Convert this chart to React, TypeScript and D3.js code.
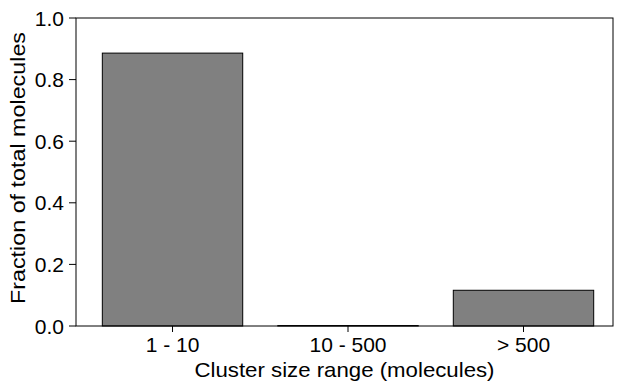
import React from "react";
import * as d3 from "d3";

const categories = ["1 - 10", "10 - 500", "> 500"];
const fractions = [0.886, 0.0015, 0.116];
const yTicks = [0, 0.2, 0.4, 0.6, 0.8, 1.0];

const width = 628;
const height = 391;
const margin = { top: 18, right: 15, bottom: 65, left: 76 };

const App = () => {
  // x as a continuous index scale, bars 0.8 wide like matplotlib
  const xScale = d3
    .scaleLinear()
    .domain([-0.55, 2.51])
    .range([margin.left, width - margin.right]);
  const yScale = d3
    .scaleLinear()
    .domain([0, 1])
    .range([height - margin.bottom, margin.top]);

  const font = "'Liberation Sans', Arial, sans-serif";
  const bottom = height - margin.bottom;
  const fs = 21;

  return (
    <svg
      width={width}
      height={height}
      style={{ position: "absolute", left: 0, top: 0 }}
      fontFamily={font}
    >
      <rect width={width} height={height} fill="#fff" />
      {fractions.map((v, i) => (
        <rect
          key={categories[i]}
          x={xScale(i - 0.4)}
          y={yScale(v)}
          width={xScale(i + 0.4) - xScale(i - 0.4)}
          height={bottom - yScale(v)}
          fill="#808080"
          stroke="#000"
          strokeWidth={1}
        />
      ))}
      <rect
        x={margin.left}
        y={margin.top}
        width={width - margin.left - margin.right}
        height={bottom - margin.top}
        fill="none"
        stroke="#000"
        strokeWidth={1}
      />
      {yTicks.map((t) => (
        <g key={t} transform={`translate(${margin.left}, ${yScale(t)})`}>
          <line x1={-7} x2={0} stroke="#000" />
          <text x={-12} dy="0.36em" textAnchor="end" fontSize={fs}>
            {t.toFixed(1)}
          </text>
        </g>
      ))}
      {categories.map((c, i) => (
        <g key={c} transform={`translate(${xScale(i)}, ${bottom})`}>
          <line y2={6} stroke="#000" />
          <text y={26} textAnchor="middle" fontSize={fs}>
            {c}
          </text>
        </g>
      ))}
      <text
        x={(margin.left + width - margin.right) / 2}
        y={377}
        textAnchor="middle"
        fontSize={fs}
        textLength={300}
        lengthAdjust="spacingAndGlyphs"
      >
        Cluster size range (molecules)
      </text>
      <text
        transform={`translate(25, ${(margin.top + bottom) / 2 - 4}) rotate(-90)`}
        textAnchor="middle"
        fontSize={fs}
        textLength={272}
        lengthAdjust="spacingAndGlyphs"
      >
        Fraction of total molecules
      </text>
    </svg>
  );
};

export default App;
